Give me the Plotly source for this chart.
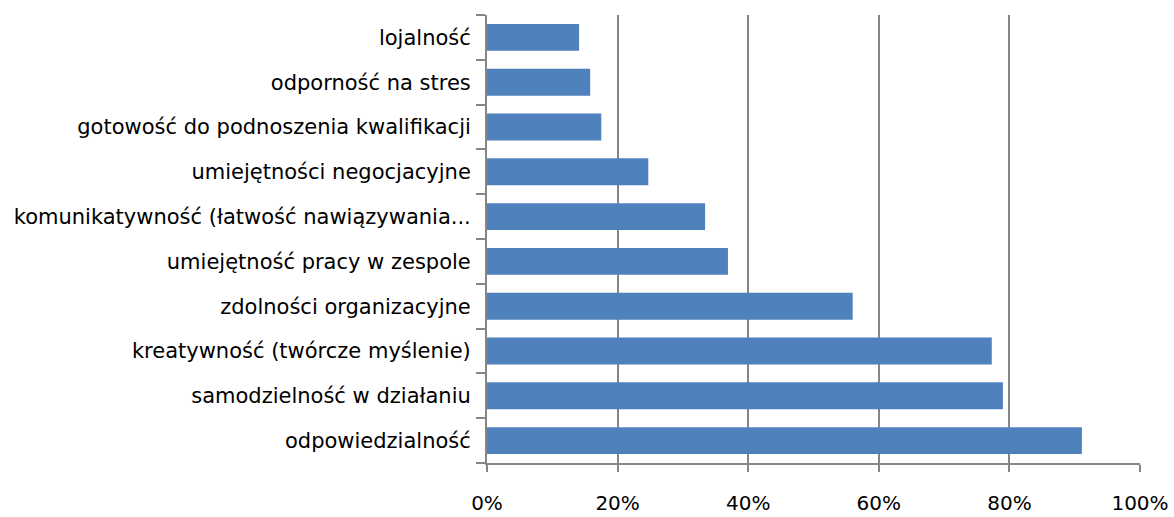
import plotly.graph_objects as go

# Categories listed bottom to top (as drawn on the category axis)
categories = [
    "odpowiedzialność",
    "samodzielność w działaniu",
    "kreatywność (twórcze myślenie)",
    "zdolności organizacyjne",
    "umiejętność pracy w zespole",
    "komunikatywność (łatwość nawiązywania...",
    "umiejętności negocjacyjne",
    "gotowość do podnoszenia kwalifikacji",
    "odporność na stres",
    "lojalność",
]
shares = [0.911, 0.790, 0.773, 0.560, 0.369, 0.334, 0.247, 0.175, 0.158, 0.141]

x_ticks = [0, 0.2, 0.4, 0.6, 0.8, 1.0]
x_tick_text = ["0%", "20%", "40%", "60%", "80%", "100%"]

GRID = "#868686"
BAR = "#4F81BD"
FONT = "'DejaVu Sans', sans-serif"

fig = go.Figure(
    go.Bar(
        x=shares,
        y=categories,
        orientation="h",
        marker=dict(color=BAR, line=dict(width=0)),
        hoverinfo="x+y",
    )
)

fig.update_layout(
    width=1174,
    height=517,
    margin=dict(l=487, r=34, t=15, b=54),
    paper_bgcolor="white",
    plot_bgcolor="white",
    bargap=0.4,
    showlegend=False,
    font=dict(family=FONT, size=20, color="#000000"),
)

fig.update_xaxes(
    range=[0, 1.0],
    tickvals=x_ticks,
    ticktext=x_tick_text,
    automargin=False,
    showgrid=True,
    gridcolor=GRID,
    gridwidth=2,
    zeroline=False,
    showline=True,
    linecolor=GRID,
    linewidth=2,
    ticks="outside",
    ticklen=7,
    tickwidth=2,
    tickcolor=GRID,
    tickfont=dict(family=FONT, size=20, color="#000000"),
    ticklabelstandoff=14,
)

fig.update_yaxes(
    type="category",
    categoryorder="array",
    categoryarray=categories,
    automargin=False,
    showgrid=False,
    showline=True,
    linecolor=GRID,
    linewidth=2,
    ticks="outside",
    tickson="boundaries",
    ticklen=9,
    tickwidth=2,
    tickcolor=GRID,
    tickfont=dict(family=FONT, size=21, color="#000000"),
    ticklabelstandoff=10,
)

fig.write_html("out.html")
